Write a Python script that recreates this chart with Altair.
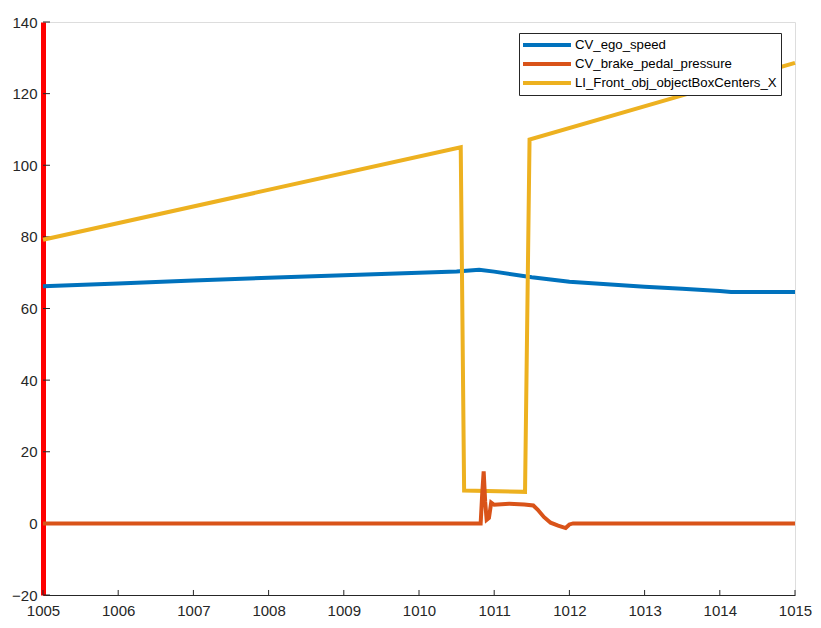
import altair as alt
import pandas as pd

# ---- data ----
series_names = ["CV_ego_speed", "CV_brake_pedal_pressure", "LI_Front_obj_objectBoxCenters_X"]
series_colors = ["#0072BD", "#D95319", "#EDB120"]

speed_x = [1005, 1006, 1007, 1008, 1009, 1010, 1010.5, 1010.8, 1011.0, 1011.5, 1012, 1012.5, 1013, 1013.5, 1014, 1014.15, 1015]
speed_y = [66.2, 67.0, 67.8, 68.6, 69.3, 70.0, 70.3, 70.8, 70.3, 68.7, 67.5, 66.8, 66.1, 65.5, 64.9, 64.6, 64.6]

brake_x = [1005, 1010.82, 1010.84, 1010.86, 1010.88, 1010.90, 1010.93, 1010.96, 1011.0, 1011.2, 1011.4, 1011.52, 1011.58, 1011.66, 1011.75, 1011.85, 1011.95, 1012.0, 1012.05, 1015]
brake_y = [0, 0, 8, 14.5, 6, 1, 1.5, 5.8, 5.2, 5.5, 5.3, 5.0, 3.8, 1.8, 0.2, -0.6, -1.3, -0.3, 0, 0]

obj_x = [1005, 1010.555, 1010.60, 1011.41, 1011.47, 1015]
obj_y = [79.2, 105.0, 9.2, 8.8, 107.2, 128.6]

x_ticks = [1005, 1006, 1007, 1008, 1009, 1010, 1011, 1012, 1013, 1014, 1015]
y_ticks = [-20, 0, 20, 40, 60, 80, 100, 120, 140]

rows = []
for name, xs, ys in [(series_names[0], speed_x, speed_y),
                     (series_names[1], brake_x, brake_y),
                     (series_names[2], obj_x, obj_y)]:
    for i, (a, b) in enumerate(zip(xs, ys)):
        rows.append({"series": name, "t": a, "v": b, "i": i})
df = pd.DataFrame(rows)

FONT = "Liberation Sans"
TXT = "#262626"

xscale = alt.Scale(domain=[1005, 1015], nice=False, zero=False)
yscale = alt.Scale(domain=[-20, 140], nice=False, zero=False)

color = alt.Color(
    "series:N",
    scale=alt.Scale(domain=series_names, range=series_colors),
    legend=alt.Legend(
        orient="none", legendX=476, legendY=11, title=None,
        symbolType="M-4,0H4", symbolSize=144, symbolStrokeWidth=4,
        labelFont=FONT, labelFontSize=13.2, labelColor="#000", labelLimit=400,
        strokeColor="#262626", fillColor="white", padding=4,
        rowPadding=3, labelOffset=20, symbolOffset=16,
    ),
)

xax = alt.Axis(values=x_ticks, format="d", grid=False, ticks=False,
               domainColor=TXT, domainWidth=1, labelFont=FONT, labelFontSize=15,
               labelColor=TXT, labelPadding=8, title=None, labelFlush=False)
yax = alt.Axis(values=y_ticks, format="d", grid=False, ticks=False,
               domainColor="#FF0000", domainWidth=5, labelFont=FONT, labelFontSize=15,
               labelColor=TXT, labelPadding=6, title=None)

base = alt.Chart(df).mark_line(strokeWidth=4).encode(
    x=alt.X("t:Q", scale=xscale, axis=xax),
    y=alt.Y("v:Q", scale=yscale, axis=yax),
    color=color,
    order="i:Q",
)

draw_order = [series_names[0], series_names[2], series_names[1]]
lines = [base.transform_filter(alt.datum.series == s) for s in draw_order]

ytk = pd.DataFrame({"y": y_ticks, "x0": [1005] * len(y_ticks), "x1": [1005.093] * len(y_ticks)})
xtk = pd.DataFrame({"x": x_ticks, "y0": [-20] * len(x_ticks), "y1": [-18.6] * len(x_ticks)})

ytick_layer = alt.Chart(ytk).mark_rule(color=TXT, strokeWidth=1).encode(
    y=alt.Y("y:Q", scale=yscale), x=alt.X("x0:Q", scale=xscale), x2="x1:Q")
xtick_layer = alt.Chart(xtk).mark_rule(color=TXT, strokeWidth=1).encode(
    x=alt.X("x:Q", scale=xscale), y=alt.Y("y0:Q", scale=yscale), y2="y1:Q")

chart = alt.layer(xtick_layer, ytick_layer, *lines).properties(
    width=752, height=573,
    autosize=alt.AutoSizeParams(type="none"),
    padding={"left": 35, "top": 14, "right": 18, "bottom": 30},
).configure_view(stroke=None).configure(background="white")

chart.save("out.html", embed_options={"renderer": "svg", "actions": False})
